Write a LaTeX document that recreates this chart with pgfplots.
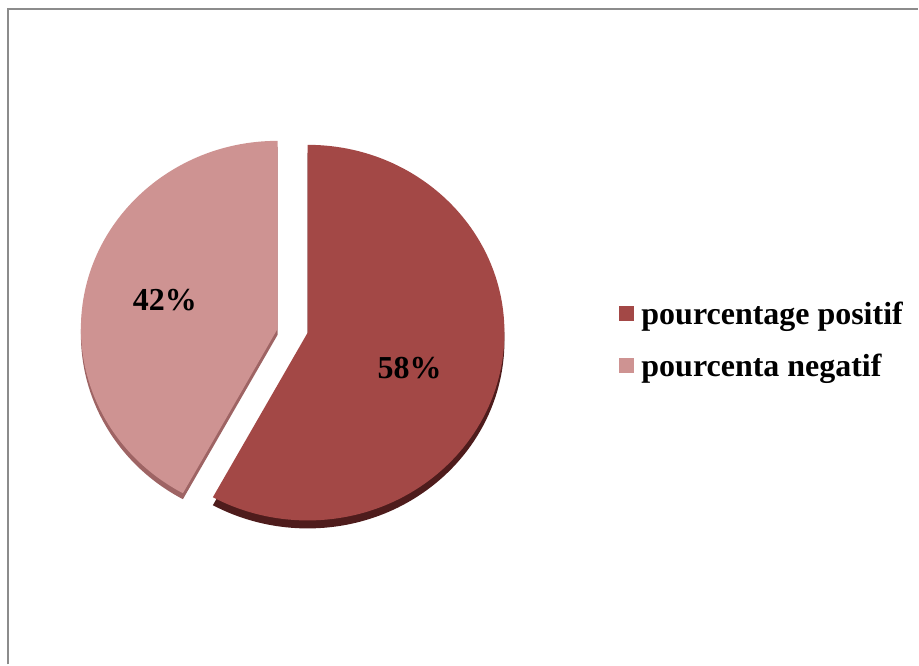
\documentclass[border=0pt]{standalone}
\usepackage{fontspec}
\setmainfont{Liberation Serif}
\usepackage{pgfplots}
\usepackage{pgfplotstable}
\pgfplotsset{compat=1.18}
\definecolor{posface}{RGB}{163,72,70}
\definecolor{posside}{RGB}{78,28,28}
\definecolor{negface}{RGB}{206,147,146}
\definecolor{negside}{RGB}{158,100,100}
\definecolor{framegray}{RGB}{140,140,140}

\pgfplotstableread{
label val
positif 58
negatif 42
}\pietable

\begin{document}
\begin{tikzpicture}
\pgfplotstablegetelem{0}{val}\of\pietable \let\vpos\pgfplotsretval
\pgfplotstablegetelem{1}{val}\of\pietable \let\vneg\pgfplotsretval
\pgfmathsetmacro{\share}{\vpos/(\vpos+\vneg)}
\pgfmathsetmacro{\cut}{90-360*\share}
\pgfmathsetmacro{\cutb}{\cut+360}
\begin{axis}[
    scale only axis,
    width=919pt, height=665pt,
    xmin=0, xmax=919, ymin=0, ymax=665,
    hide axis, clip=false,
    legend style={
        at={(0.6746,0.4887)}, anchor=west,
        draw=none, fill=none,
        inner xsep=0pt, inner ysep=0pt,
        nodes={inner sep=0pt, anchor=west},
        column sep=7pt, row sep=28pt,
        font=\bfseries\fontsize{32}{38}\selectfont,
    },
    legend cell align=left,
    legend image code/.code={
        \fill[#1] (0pt,-7.5pt) rectangle (15pt,7.5pt); },
]
\path (axis cs:0,0) rectangle (axis cs:919,665);
% frame
\draw[framegray, line width=2pt] (axis cs:8.5,0) -- (axis cs:8.5,655.5) -- (axis cs:919,655.5);
% depth of slices
\fill[negside] (axis cs:278,330) -- +(90:197pt and 188pt)
    arc[start angle=90, end angle=\cutb, x radius=197pt, y radius=188pt] -- cycle;
\fill[posside] (axis cs:308,324) -- +(90:197pt and 188pt)
    arc[start angle=90, end angle=\cut, x radius=197pt, y radius=188pt] -- cycle;
% faces
\fill[negface] (axis cs:278,336) -- +(90:197pt and 188pt)
    arc[start angle=90, end angle=\cutb, x radius=197pt, y radius=188pt] -- cycle;
\fill[posface] (axis cs:308,332) -- +(90:197pt and 188pt)
    arc[start angle=90, end angle=\cut, x radius=197pt, y radius=188pt] -- cycle;
% labels
\node[font=\bfseries\fontsize{32}{38}\selectfont] at (axis cs:165,365) {\vneg\%};
\node[font=\bfseries\fontsize{32}{38}\selectfont] at (axis cs:410,297) {\vpos\%};
\addlegendimage{fill=posface, draw=none}
\addlegendentry{pourcentage positif}
\addlegendimage{fill=negface, draw=none}
\addlegendentry{pourcenta negatif}
\end{axis}
\end{tikzpicture}
\end{document}
